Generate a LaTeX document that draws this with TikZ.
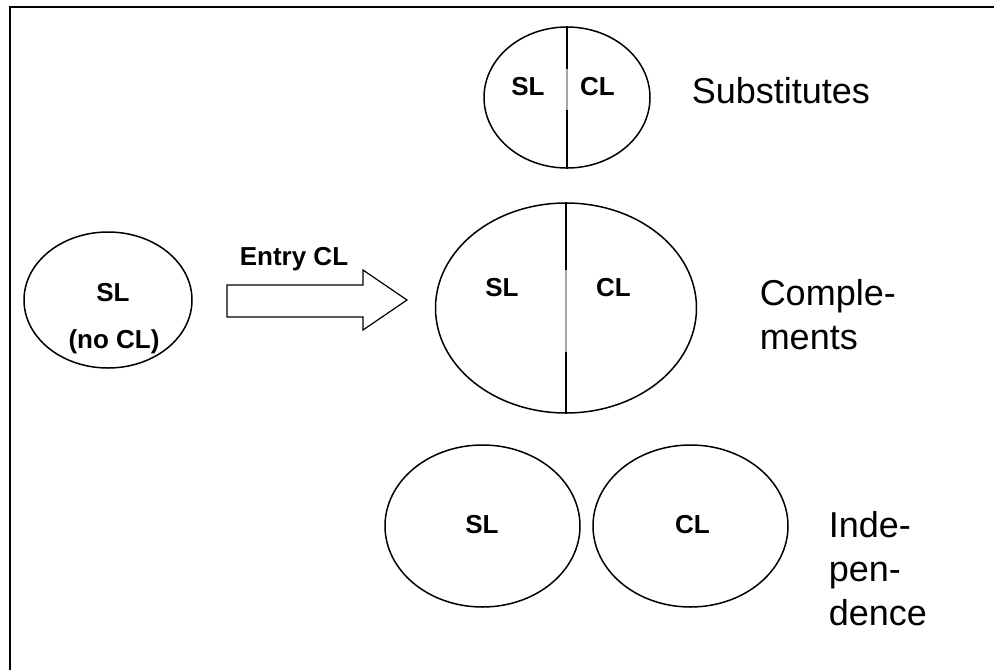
\documentclass[tikz,border=0pt]{standalone}
\usepackage{fontspec}
\setmainfont{Liberation Sans}
\usetikzlibrary{shapes.geometric}

\tikzset{
  set/.style={draw, ellipse, line width=1.5pt, inner sep=0pt},
  tag/.style={font=\bfseries\fontsize{26}{30}\selectfont, inner sep=0pt},
  kind/.style={font=\fontsize{36}{44}\selectfont, align=left, inner sep=0pt, anchor=north west},
}

\begin{document}
\begin{tikzpicture}[x=1pt, y=-1pt, line width=1.5pt]
  \useasboundingbox (0,0) rectangle (994,670);
  % frame, only left and top edges show
  \draw[line width=2pt] (10,670) -- (10,7) -- (994,7);
  % starting set: SL alone
  \node[set, minimum width=168pt, minimum height=136pt] (solo) at (108,300) {};
  \node[tag] (soloSL) at (113,292.5) {SL};
  \node[tag, anchor=base] (soloCL) at (114,348) {(no CL)};
  % entry of CL
  \node[tag] (entry) at (294,259) {Entry CL};
  \draw[line width=1.2pt] (227,285) -- (363,285) -- (363,270) -- (407,300)
    -- (363,330) -- (363,317) -- (227,317) -- cycle;
  % substitutes
  \node[set, minimum width=166pt, minimum height=141pt] (sub) at (567,97.5) {};
  \draw (sub.north) -- (sub.south);
  \draw[gray!70] (567,69) -- (567,110);
  \node[tag] (subSL) at (528,87) {SL};
  \node[tag] (subCL) at (597.5,87) {CL};
  \node[font=\fontsize{36}{44}\selectfont, inner sep=0pt, anchor=base west] (subname) at (691,103) {Substitutes};
  % complements
  \node[set, minimum width=261pt, minimum height=210pt] (comp) at (566,308) {};
  \draw (comp.north) -- (comp.south);
  \draw[gray!70] (566,270) -- (566,352);
  \node[tag] (compSL) at (502,287.5) {SL};
  \node[tag] (compCL) at (613.5,287.5) {CL};
  \node[kind] (compname) at (759,279) {Comple-\\ments};
  % independence
  \node[set, minimum width=195pt, minimum height=162pt] (indSL) at (482.5,526) {};
  \node[set, minimum width=195pt, minimum height=162pt] (indCL) at (690.5,526) {};
  \node[tag] (indSLtag) at (482,525) {SL};
  \node[tag] (indCLtag) at (692.5,525) {CL};
  \node[kind] (indname) at (828,511) {Inde-\\pen-\\dence};
\end{tikzpicture}
\end{document}
